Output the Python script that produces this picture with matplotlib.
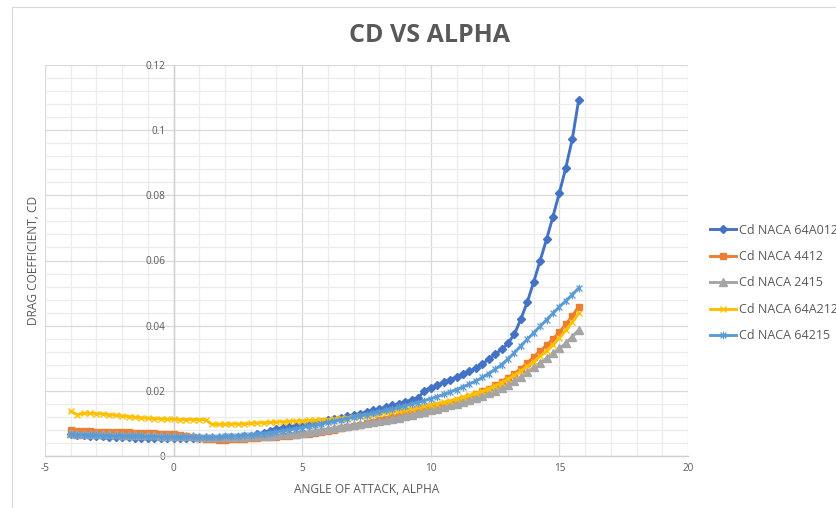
import matplotlib
matplotlib.use("Agg")
import matplotlib.pyplot as plt
from matplotlib.ticker import MultipleLocator, FixedLocator
from matplotlib.path import Path
from matplotlib.patches import Rectangle

plt.rcParams['font.family'] = ['Open Sans', 'DejaVu Sans']

alpha = [-4, -3.75, -3.5, -3.25, -3, -2.75, -2.5, -2.25, -2, -1.75, -1.5, -1.25, -1, -0.75,
         -0.5, -0.25, 0, 0.25, 0.5, 0.75, 1, 1.25, 1.5, 1.75, 2, 2.25, 2.5, 2.75, 3, 3.25,
         3.5, 3.75, 4, 4.25, 4.5, 4.75, 5, 5.25, 5.5, 5.75, 6, 6.25, 6.5, 6.75, 7, 7.25, 7.5,
         7.75, 8, 8.25, 8.5, 8.75, 9, 9.25, 9.5, 9.75, 10, 10.25, 10.5, 10.75, 11, 11.25,
         11.5, 11.75, 12, 12.25, 12.5, 12.75, 13, 13.25, 13.5, 13.75, 14, 14.25, 14.5, 14.75,
         15, 15.25, 15.5, 15.75]

cd_64a012 = [0.0066, 0.0064, 0.0063, 0.0062, 0.0061, 0.0060, 0.0059, 0.0058, 0.0057,
             0.0057, 0.0056, 0.0056, 0.0055, 0.0055, 0.0054, 0.0054, 0.0054,
             0.0054, 0.0054, 0.0054, 0.0054, 0.0055, 0.0055, 0.0056, 0.0057,
             0.0058, 0.0059, 0.0060, 0.0062, 0.0066, 0.0072, 0.0078, 0.0084,
             0.0087, 0.0090, 0.0093, 0.0096, 0.0099, 0.0102, 0.0105, 0.0110,
             0.0114, 0.0118, 0.0122, 0.0126, 0.0130, 0.0135, 0.0140, 0.0145,
             0.0150, 0.0155, 0.0160, 0.0166, 0.0172, 0.0178, 0.0200, 0.0210,
             0.0218, 0.0226, 0.0234, 0.0242, 0.0251, 0.0260, 0.0270, 0.0282,
             0.0297, 0.0312, 0.0327, 0.0346, 0.0374, 0.0420, 0.0472, 0.0534,
             0.0599, 0.0665, 0.0735, 0.0808, 0.0885, 0.0972, 0.1093]

cd_4412 = [0.0079, 0.0078, 0.0077, 0.0076, 0.0075, 0.0075, 0.0074, 0.0074, 0.0073,
           0.0073, 0.0072, 0.0072, 0.0071, 0.0070, 0.0069, 0.0068, 0.0066,
           0.0063, 0.0060, 0.0057, 0.0054, 0.0052, 0.0051, 0.0050, 0.0050,
           0.0051, 0.0052, 0.0053, 0.0054, 0.0055, 0.0057, 0.0058, 0.0059,
           0.0061, 0.0062, 0.0064, 0.0067, 0.0069, 0.0072, 0.0075, 0.0078,
           0.0081, 0.0085, 0.0088, 0.0092, 0.0096, 0.0101, 0.0105, 0.0110,
           0.0114, 0.0119, 0.0123, 0.0128, 0.0132, 0.0137, 0.0141, 0.0146,
           0.0151, 0.0157, 0.0162, 0.0168, 0.0175, 0.0182, 0.0190, 0.0198,
           0.0207, 0.0217, 0.0228, 0.0240, 0.0253, 0.0268, 0.0285, 0.0304,
           0.0322, 0.0340, 0.0359, 0.0380, 0.0404, 0.0430, 0.0458]

cd_2415 = [0.0070, 0.0069, 0.0069, 0.0068, 0.0067, 0.0067, 0.0066, 0.0066, 0.0065,
           0.0065, 0.0064, 0.0064, 0.0063, 0.0063, 0.0062, 0.0062, 0.0061,
           0.0061, 0.0060, 0.0060, 0.0059, 0.0059, 0.0058, 0.0058, 0.0058,
           0.0058, 0.0058, 0.0059, 0.0060, 0.0060, 0.0061, 0.0062, 0.0064,
           0.0066, 0.0067, 0.0069, 0.0072, 0.0074, 0.0077, 0.0080, 0.0083,
           0.0086, 0.0089, 0.0092, 0.0095, 0.0098, 0.0101, 0.0104, 0.0107,
           0.0110, 0.0114, 0.0118, 0.0122, 0.0127, 0.0131, 0.0135, 0.0140,
           0.0145, 0.0150, 0.0155, 0.0160, 0.0166, 0.0172, 0.0178, 0.0185,
           0.0192, 0.0200, 0.0209, 0.0219, 0.0230, 0.0243, 0.0257, 0.0272,
           0.0285, 0.0300, 0.0315, 0.0330, 0.0346, 0.0366, 0.0387]

cd_64a212 = [0.0137, 0.0127, 0.0131, 0.0131, 0.0130, 0.0129, 0.0127, 0.0125, 0.0123,
             0.0121, 0.0119, 0.0117, 0.0116, 0.0115, 0.0114, 0.0113, 0.0113,
             0.0112, 0.0112, 0.0112, 0.0112, 0.0111, 0.0097, 0.0097, 0.0097,
             0.0098, 0.0098, 0.0099, 0.0100, 0.0101, 0.0102, 0.0103, 0.0104,
             0.0105, 0.0106, 0.0107, 0.0108, 0.0109, 0.0110, 0.0111, 0.0112,
             0.0114, 0.0116, 0.0118, 0.0120, 0.0122, 0.0124, 0.0127, 0.0130,
             0.0133, 0.0136, 0.0139, 0.0142, 0.0145, 0.0149, 0.0153, 0.0157,
             0.0161, 0.0165, 0.0170, 0.0175, 0.0180, 0.0186, 0.0192, 0.0198,
             0.0206, 0.0215, 0.0225, 0.0236, 0.0248, 0.0261, 0.0275, 0.0290,
             0.0306, 0.0323, 0.0342, 0.0363, 0.0386, 0.0411, 0.0438]

cd_64215 = [0.0066, 0.0065, 0.0064, 0.0063, 0.0063, 0.0062, 0.0062, 0.0061, 0.0061,
            0.0060, 0.0060, 0.0060, 0.0059, 0.0059, 0.0059, 0.0059, 0.0058,
            0.0058, 0.0058, 0.0058, 0.0058, 0.0058, 0.0058, 0.0059, 0.0060,
            0.0061, 0.0062, 0.0063, 0.0065, 0.0067, 0.0069, 0.0071, 0.0074,
            0.0077, 0.0080, 0.0083, 0.0087, 0.0091, 0.0095, 0.0099, 0.0103,
            0.0107, 0.0111, 0.0115, 0.0119, 0.0123, 0.0127, 0.0131, 0.0135,
            0.0140, 0.0144, 0.0149, 0.0154, 0.0159, 0.0164, 0.0170, 0.0176,
            0.0182, 0.0189, 0.0196, 0.0204, 0.0212, 0.0221, 0.0230, 0.0241,
            0.0253, 0.0266, 0.0280, 0.0298, 0.0317, 0.0338, 0.0358, 0.0378,
            0.0398, 0.0418, 0.0438, 0.0458, 0.0476, 0.0495, 0.0515]

series_labels = ['Cd NACA 64A012', 'Cd NACA 4412', 'Cd NACA 2415', 'Cd NACA 64A212', 'Cd NACA 64215']
x_ticks = [-5, 0, 5, 10, 15, 20]
y_ticks = [0, 0.02, 0.04, 0.06, 0.08, 0.1, 0.12]
y_tick_labels = ['0', '0.02', '0.04', '0.06', '0.08', '0.1', '0.12']

W, H = 837, 508
fig = plt.figure(figsize=(W / 100, H / 100), dpi=100)
fig.patch.set_facecolor('white')
fig.add_artist(Rectangle((12 / W, -0.05), 1.0, 1 - 7 / H + 0.05, transform=fig.transFigure,
                         fill=False, edgecolor='#d9d9d9', lw=0.8))

ax = fig.add_axes([45 / W, 1 - 456 / H, (688 - 45) / W, (456 - 65) / H])
ax.set_xlim(-5, 20)
ax.set_ylim(0, 0.12)

star = Path([(-1, -1), (1, 1), (-1, 1), (1, -1), (0, -1.3), (0, 1.3)],
            [Path.MOVETO, Path.LINETO, Path.MOVETO, Path.LINETO, Path.MOVETO, Path.LINETO])

styles = [
    dict(color='#4472C4', marker='D', ms=4.2),
    dict(color='#ED7D31', marker='s', ms=5.0),
    dict(color='#A5A5A5', marker='^', ms=5.2),
    dict(color='#FFC000', marker='x', ms=4.5, mew=1.0),
    dict(color='#5B9BD5', marker=star, ms=5.5, mew=0.9),
]
data = [cd_64a012, cd_4412, cd_2415, cd_64a212, cd_64215]
for vals, lab, st in zip(data, series_labels, styles):
    ax.plot(alpha, vals, lw=2.1, label=lab, zorder=3, **st)

ax.xaxis.set_major_locator(FixedLocator(x_ticks))
ax.xaxis.set_minor_locator(MultipleLocator(1))
ax.yaxis.set_major_locator(FixedLocator(y_ticks))
ax.yaxis.set_minor_locator(MultipleLocator(0.004))
ax.set_yticklabels(y_tick_labels)
ax.set_xticklabels([str(t) for t in x_ticks])

ax.set_axisbelow(True)
ax.grid(which='major', color='#d9d9d9', lw=0.9)
ax.grid(which='minor', color='#ececec', lw=0.9)

for s in ['top', 'right']:
    ax.spines[s].set_visible(False)
ax.spines['left'].set_position(('data', 0))
ax.spines['left'].set_color('#cfcfcf')
ax.spines['left'].set_linewidth(1.0)
ax.spines['bottom'].set_color('#cfcfcf')
ax.spines['bottom'].set_linewidth(1.0)

ax.tick_params(which='both', length=0)
ax.tick_params(axis='y', labelsize=7.2, labelcolor='#595959', pad=6)
ax.tick_params(axis='x', labelsize=7.2, labelcolor='#595959', pad=5)

ax.set_ylabel('DRAG COEFFICIENT, CD', fontsize=8.6, color='#595959')
ax.yaxis.set_label_coords(-0.008, 0.5)
ax.set_xlabel('ANGLE OF ATTACK, ALPHA', fontsize=8.6, color='#595959')
ax.xaxis.set_label_coords(0.5, -0.068)

fig.text(430 / W, 1 - 35 / H, 'CD VS ALPHA', ha='center', va='center', fontsize=18,
         fontweight='bold', color='#595959')

leg = fig.legend(loc='center left', bbox_to_anchor=(710 / W, 1 - 283 / H), frameon=False,
                 fontsize=9, labelcolor='#595959', handlelength=2.1, handletextpad=0.2,
                 labelspacing=1.07, borderpad=0, borderaxespad=0, numpoints=1)

fig.savefig('out.png', dpi=100)
